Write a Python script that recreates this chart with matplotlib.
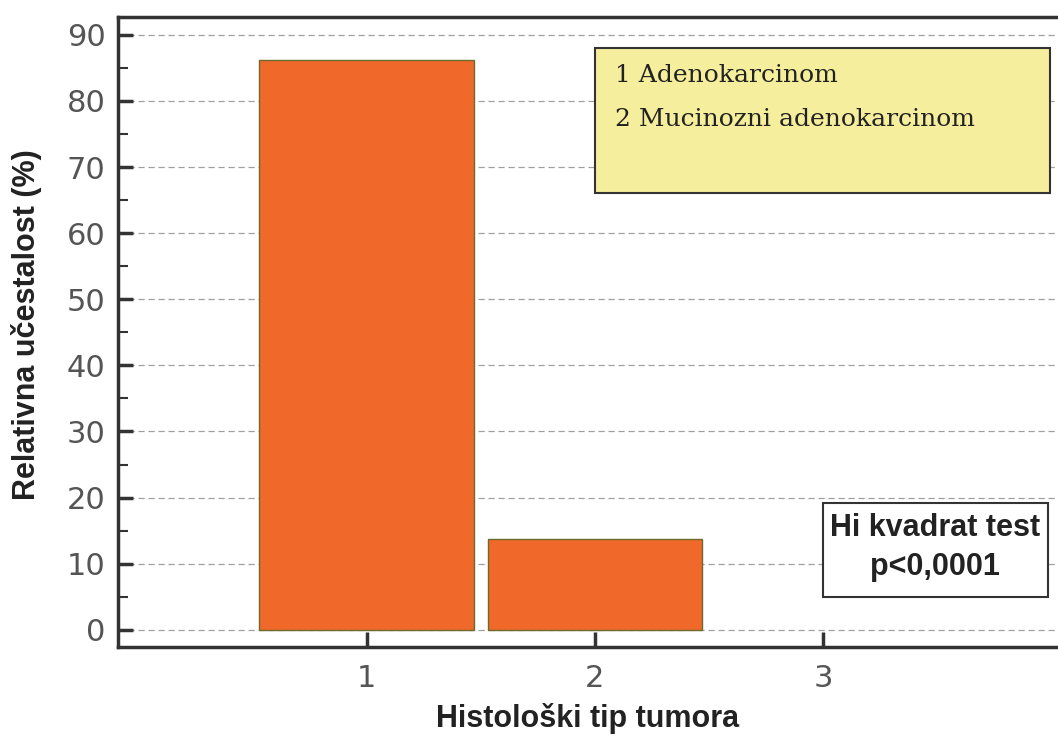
import matplotlib.pyplot as plt
from matplotlib.ticker import MultipleLocator

# data
tip = [1, 2]
ucestalost = [86.2, 13.8]
xticks = [1, 2, 3]
legend_lines = ["1 Adenokarcinom", "2 Mucinozni adenokarcinom"]
test_lines = ["Hi kvadrat test", "p<0,0001"]

W, H = 1058, 742
fig = plt.figure(figsize=(W / 100, H / 100), dpi=100)
ax = fig.add_axes([118 / W, 1 - 647 / H, 1 - 118 / W, (647 - 17) / H])

ax.bar(tip, ucestalost, width=0.94, color="#F0692A", edgecolor="#6E6A2A", linewidth=1.0, zorder=3)

ax.set_xlim(-0.09, 4.03)
ax.set_ylim(-2.6, 92.7)
ax.set_xticks(xticks)
ax.set_yticks(range(0, 91, 10))
ax.yaxis.set_minor_locator(MultipleLocator(5))

ax.grid(axis="y", which="major", linestyle=(0, (5, 3)), color="#A0A0A0", linewidth=0.9, zorder=0)

for s in ["left", "bottom", "top"]:
    ax.spines[s].set_linewidth(2.5)
    ax.spines[s].set_color("#333333")
ax.spines["right"].set_visible(False)

ax.tick_params(axis="both", which="major", direction="in", length=11, width=2.5,
               color="#333333", labelsize=22, labelcolor="#555555", pad=9)
ax.tick_params(axis="y", which="minor", direction="in", length=7, width=1.5, color="#333333")
ax.tick_params(axis="x", which="major", pad=12)

ax.set_xlabel("Histološki tip tumora", fontsize=22, fontweight="bold", family="Liberation Sans",
              color="#222222")
ax.set_ylabel("Relativna učestalost (%)", fontsize=22, fontweight="bold", family="Liberation Sans",
              color="#222222")
ax.xaxis.set_label_coords(0.5, 1 - (718 - 17) / 630, transform=ax.transAxes)
ax.yaxis.set_label_coords(27 / W, 1 - 325 / H, transform=fig.transFigure)
ax.xaxis.label.set_va("center")
ax.yaxis.label.set_va("center")

# legend box with category names
ax.add_patch(plt.Rectangle((595 / W, 1 - 193 / H), (1050 - 595) / W, (193 - 48) / H,
                           transform=fig.transFigure, clip_on=False,
                           facecolor="#F5EE9C", edgecolor="#333333", linewidth=1.5, zorder=4))
for i, line in enumerate(legend_lines):
    ax.text(615 / W, 1 - (76 + 44 * i) / H, line, transform=fig.transFigure, ha="left", va="center",
            fontsize=18, family="DejaVu Serif", color="#222222", zorder=5)

# test box
ax.add_patch(plt.Rectangle((823 / W, 1 - 597 / H), (1048 - 823) / W, (597 - 503) / H,
                           transform=fig.transFigure, clip_on=False,
                           facecolor="white", edgecolor="#333333", linewidth=1.5, zorder=4))
for i, line in enumerate(test_lines):
    ax.text(935 / W, 1 - (528 + 39 * i) / H, line, transform=fig.transFigure, ha="center", va="center",
            fontsize=22, fontweight="bold", family="Liberation Sans", color="#222222", zorder=5)

fig.savefig("out.png", dpi=100)
